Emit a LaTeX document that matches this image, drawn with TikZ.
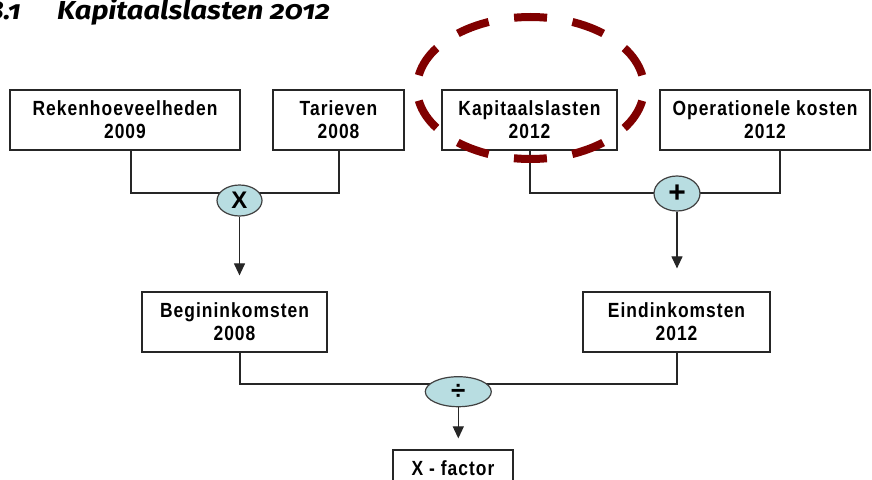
\documentclass[tikz,border=0pt]{standalone}
\usepackage{fontspec}
\setmainfont{Liberation Sans}
\newfontfamily\boxfont[LetterSpace=5,FakeStretch=0.85]{Liberation Sans}
\newfontfamily\titlefont[Numbers=OldStyle,FakeStretch=1.12]{Fira Sans}
\usetikzlibrary{arrows.meta,shapes.geometric}
\definecolor{opfill}{HTML}{B8DDE1}
\definecolor{dashred}{HTML}{800000}
\begin{document}
\begin{tikzpicture}[x=1pt,y=-1pt,
  box/.style={draw=black!85, line width=1.2pt, fill=white, minimum height=60pt, inner sep=0pt, align=center, font=\boxfont\bfseries\fontsize{20.5}{23}\selectfont},
  op/.style={ellipse, draw=black!75, line width=1.2pt, fill=opfill, inner sep=0pt, font=\bfseries\fontsize{24}{24}\selectfont},
  conn/.style={draw=black!85, line width=1.1pt},
  arr/.style={conn, -{Triangle[length=12pt,width=11pt]}},
  hilite/.style={draw=dashred, line width=8pt, dash pattern=on 33pt off 25.73pt, dash phase=45.9pt},
  ttl/.style={inner sep=0pt, font=\titlefont\bfseries\itshape\fontsize{26}{26}\selectfont}]
\useasboundingbox (0,0) rectangle (872,479);
\fill[white] (0,0) rectangle (872,479);
% title
\node[ttl, anchor=base west] (title) at (57,19) {Kapitaalslasten 2012};
\node[ttl, anchor=base east] (num) at (21,19) {8.1};
% boxes
\node[box, minimum width=230pt] (rek) at (125,120) {Rekenhoeveelheden\\2009};
\node[box, minimum width=131pt] (tar) at (338.5,120) {Tarieven\\2008};
\node[box, minimum width=175pt] (kap) at (529.5,120) {Kapitaalslasten\\2012};
\node[box, minimum width=210pt] (ope) at (765,120) {Operationele kosten\\2012};
\node[box, minimum width=185pt] (beg) at (234.5,322) {Begininkomsten\\2008};
\node[box, minimum width=187pt] (ein) at (676.5,322) {Eindinkomsten\\2012};
\node[box, minimum width=120pt] (xf) at (453,480) {X - factor\\\phantom{2008}};
% junctions
\coordinate (mj) at (239.5,193);
\coordinate (pj) at (677,193);
\coordinate (dj) at (458.3,384);
\draw[conn] ([xshift=6pt]rek.south) |- (mj) -| ([xshift=0.5pt]tar.south);
\draw[conn] ([xshift=0.5pt]kap.south) |- (pj) -| ([xshift=15pt]ope.south);
\draw[conn] ([xshift=5.5pt]beg.south) |- (dj) -| ([xshift=0.5pt]ein.south);
% operators
\node[op, minimum width=45pt, minimum height=31pt] (mul) at (239.5,200.5) {X};
\node[op, minimum width=46pt, minimum height=35pt, font=\bfseries\fontsize{30}{30}\selectfont] (plus) at (677,193.5) {+};
\node[op, minimum width=66pt, minimum height=30pt, font=\bfseries\fontsize{26}{26}\selectfont] (div) at (458.3,391.7) {÷};
% arrows
\draw[arr, shorten >=16pt] (mul.south) -- (mul.south |- beg.north);
\draw[arr, shorten >=23pt] (plus.south) -- (plus.south |- ein.north);
\draw[arr, shorten >=11pt] (div.south) -- (div.south |- xf.north);
% highlight
\draw[hilite] (530.5,88) ellipse [x radius=113.5pt, y radius=71pt];
\end{tikzpicture}
\end{document}
